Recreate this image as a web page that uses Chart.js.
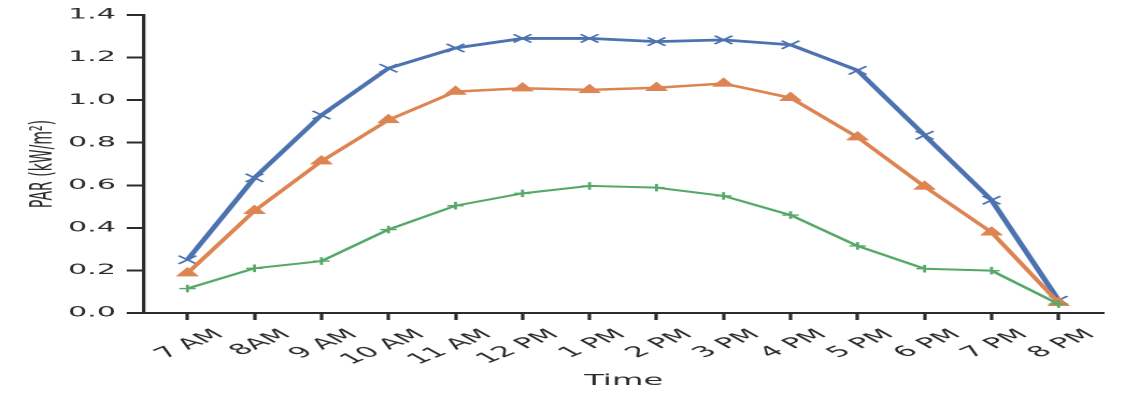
<!DOCTYPE html>
<html lang="en">
<head>
    <meta charset="UTF-8">
    <title>PAR over the day</title>
    <script src="https://cdn.jsdelivr.net/npm/chart.js"></script>
    <style>
        html, body { margin: 0; padding: 0; background: #fff; overflow: hidden; }
        /* the reference is stretched sideways, so draw narrow and stretch */
        #wrap { width: 523px; height: 398px; transform: scaleX(2.151); transform-origin: 0 0; }
    </style>
</head>
<body>

<div id="wrap">
    <canvas id="chartPAR"></canvas>
</div>

<script>
    // data
    const hours = ['7 AM', '8AM', '9 AM', '10 AM', '11 AM', '12 PM', '1 PM', '2 PM', '3 PM', '4 PM', '5 PM', '6 PM', '7 PM', '8 PM'];
    const blueSeries   = [0.25, 0.635, 0.93, 1.15, 1.245, 1.29, 1.29, 1.275, 1.283, 1.26, 1.14, 0.835, 0.53, 0.06];
    const orangeSeries = [0.187, 0.48, 0.713, 0.907, 1.04, 1.056, 1.048, 1.058, 1.078, 1.011, 0.826, 0.594, 0.379, 0.048];
    const greenSeries  = [0.115, 0.21, 0.244, 0.392, 0.504, 0.562, 0.597, 0.589, 0.55, 0.46, 0.315, 0.208, 0.199, 0.042];
    const yTicks = [0, 0.2, 0.4, 0.6, 0.8, 1.0, 1.2, 1.4];

    const ink = '#2b2b2b';
    const font = 'DejaVu Sans';

    function points(values) {
        return values.map((v, i) => ({ x: i, y: v }));
    }

    new Chart(document.getElementById('chartPAR'), {
        type: 'line',
        data: {
            datasets: [
                {
                    data: points(blueSeries),
                    borderColor: '#4c72b0',
                    borderWidth: 2.8,
                    pointStyle: 'crossRot',
                    pointRadius: 5.8,
                    pointBorderWidth: 1.4,
                    pointBorderColor: '#4c72b0',
                    pointBackgroundColor: '#4c72b0',
                    tension: 0,
                    order: 3
                },
                {
                    data: points(orangeSeries),
                    borderColor: '#dd8452',
                    borderWidth: 2.5,
                    pointStyle: 'triangle',
                    pointRadius: 5.8,
                    pointBorderWidth: 0.5,
                    pointBorderColor: '#dd8452',
                    pointBackgroundColor: '#dd8452',
                    tension: 0,
                    order: 2
                },
                {
                    data: points(greenSeries),
                    borderColor: '#55a868',
                    borderWidth: 2,
                    pointStyle: 'cross',
                    pointRadius: 3.8,
                    pointBorderWidth: 1.4,
                    pointBorderColor: '#55a868',
                    pointBackgroundColor: '#55a868',
                    tension: 0,
                    order: 1
                }
            ]
        },
        options: {
            responsive: true,
            maintainAspectRatio: false,
            animation: false,
            devicePixelRatio: 2,
            layout: { padding: { top: 15, right: 10, bottom: 0, left: 0 } },
            plugins: {
                legend: { display: false },
                tooltip: { enabled: false }
            },
            scales: {
                x: {
                    type: 'linear',
                    min: -0.65,
                    max: 13.67,
                    afterFit: (scale) => { scale.height = 85; },
                    border: { display: true, color: ink, width: 2 },
                    grid: { drawOnChartArea: false, drawTicks: true, tickLength: 7, tickWidth: 1.6, tickColor: ink },
                    ticks: {
                        stepSize: 1,
                        includeBounds: false,
                        autoSkip: false,
                        minRotation: 40,
                        maxRotation: 40,
                        labelOffset: 15,
                        padding: 6,
                        color: ink,
                        font: { family: font, size: 14.5 },
                        callback: (value) => hours[value]
                    },
                    title: {
                        display: true,
                        text: 'Time',
                        color: ink,
                        font: { family: font, size: 15 },
                        padding: { top: 0, bottom: 8 }
                    }
                },
                y: {
                    min: 0,
                    max: 1.4,
                    afterFit: (scale) => { scale.width = 66.9; },
                    afterBuildTicks: (scale) => { scale.ticks = yTicks.map(v => ({ value: v })); },
                    border: { display: true, color: ink, width: 1.6 },
                    grid: { drawOnChartArea: false, drawTicks: true, tickLength: 8, tickWidth: 2, tickColor: ink },
                    ticks: {
                        padding: 5,
                        color: ink,
                        font: { family: font, size: 14 },
                        callback: (value) => value.toFixed(1)
                    },
                    title: {
                        display: true,
                        text: 'PAR (kW/m²)',
                        color: ink,
                        font: { family: font, size: 14 },
                        padding: { top: 12, bottom: 0 }
                    }
                }
            }
        }
    });
</script>

</body>
</html>
